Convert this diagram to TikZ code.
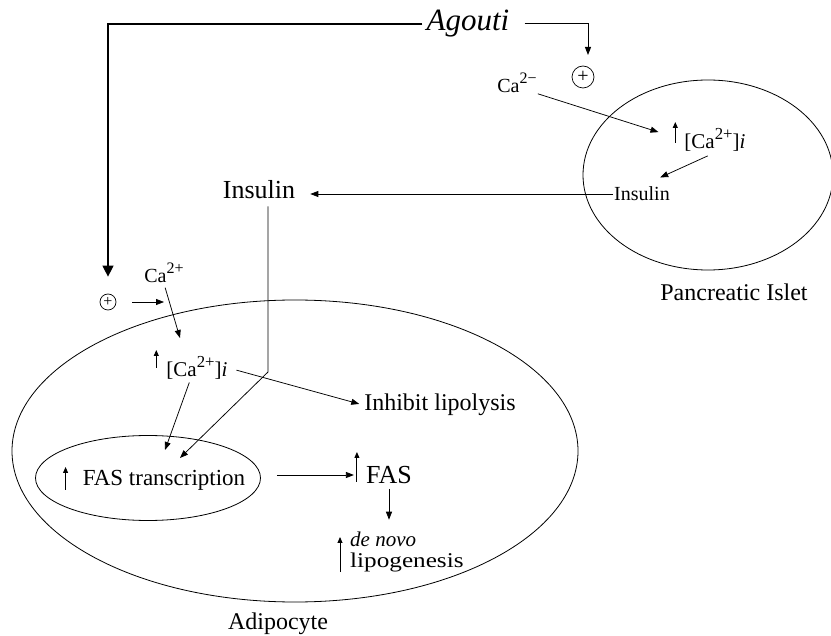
\documentclass[tikz,border=0pt]{standalone}
\usepackage{fontspec}
\usepackage{graphicx}
\setmainfont{Liberation Serif}
\usetikzlibrary{shapes.geometric, arrows.meta, positioning, calc}

\newcommand{\ionsup}[1]{\raisebox{0.42em}{\scalebox{0.8}{#1}}}

\begin{document}
\begin{tikzpicture}[
    x=1pt, y=-1pt,
    lbl/.style={inner sep=1pt, font=\fontsize{#1}{#1}\selectfont},
    cell/.style={draw, ellipse, line width=0.8pt, inner sep=0pt},
    plus/.style={draw, circle, inner sep=0pt, line width=0.7pt},
    arrow/.style={-{Triangle[length=8pt, width=6pt]}, line width=0.75pt},
    bigarrow/.style={-{Triangle[length=11pt, width=11pt]}, line width=1.2pt},
    uparr/.style={-{Triangle[length=6pt, width=5pt]}, line width=0.9pt}
]
    \useasboundingbox (0,0) rectangle (831,636);

    % Cells
    \node[cell, minimum width=566pt, minimum height=302pt] (adipo) at (295,451) {};
    \node[cell, minimum width=250pt, minimum height=190pt] (islet) at (708,175) {};
    \node[cell, minimum width=225pt, minimum height=85pt] (fastr) at (148,478) {};

    % Top
    \node[lbl=31] (agouti) at (468,24) {\itshape Agouti};
    \node[plus, minimum size=22pt, font=\fontsize{20}{20}\selectfont] (plusR) at (583,77) {+};
    \node[plus, minimum size=16pt, font=\fontsize{16}{16}\selectfont] (plusL) at (108,302) {+};
    \coordinate (agtip) at (588,55);

    % Pancreatic islet
    \node[lbl=20] (ca2m) at (517,83) {Ca\ionsup{2−}};
    \node[lbl=21] (caiI) at (715,140) {[Ca\ionsup{2+}]\textit{i}};
    \node[lbl=20] (insI) at (642,194) {Insulin};
    \node[lbl=24] (islabel) at (734,292) {Pancreatic Islet};
    \node[lbl=26] (insB) at (259,190) {Insulin};

    % Adipocyte
    \node[lbl=20] (ca2p) at (164,273) {Ca\ionsup{2+}};
    \node[lbl=21] (caiL) at (197,368) {[Ca\ionsup{2+}]\textit{i}};
    \node[lbl=24] (inhib) at (440,405) {Inhibit lipolysis};
    \node[lbl=23] (fastext) at (164,480) {FAS transcription};
    \node[lbl=26] (fas) at (389,475) {FAS};
    \node[lbl=21, anchor=west, align=left] (novo) at (349,552) {\textit{de novo}\\\scalebox{1.2}[1]{lipogenesis}};
    \node[lbl=24] (adlabel) at (278,624) {Adipocyte};

    \coordinate (bend) at (268,372);
    \coordinate (insTip) at (180,458);
    \coordinate (caTip) at (165,450);
    \coordinate (ca2Tip) at (180,338);

    % Agouti connections
    \draw[bigarrow, shorten <=3pt, shorten >=17pt] (agouti.west) -| (plusL.north);
    \draw[arrow, line width=1pt, shorten <=14pt] (agouti.east) -| (agtip);

    % Islet connections
    \draw[arrow, shorten >=26pt] (ca2m.south east) -- (caiI.west);
    \draw[arrow, shorten <=8pt, shorten >=20pt] (caiI.south) -- (insI.north);
    \draw[arrow, shorten >=14pt] (insI.west) -- (insI.west -| insB.east);

    % Insulin into adipocyte
    \draw[arrow, shorten <=6pt] (insB.south -| bend) -- (bend) -- (insTip);

    % Adipocyte connections
    \draw[arrow, shorten <=16pt] (plusL) -- (plusL -| ca2p);
    \draw[arrow, shorten <=4pt] (ca2p.south) -- (ca2Tip);
    \draw[arrow, shorten <=8pt, shorten >=4pt] (caiL.east) -- (inhib.west);
    \draw[arrow, shorten <=2pt] ($(caiL.south)+(-7,0)$) -- (caTip);
    \draw[arrow, shorten <=16pt, shorten >=11pt] (fas.west -| fastr.east) -- (fas.west);
    \draw[arrow, shorten <=4pt, shorten >=11pt] (fas.south) -- (fas.south |- novo.north);

    % Rising levels
    \draw[uparr] ($(caiI.west)+(-8,3)$) -- ++(0,-21);
    \draw[uparr] ($(caiL.west)+(-9,0)$) -- ++(0,-18);
    \draw[uparr] ($(fastext.west)+(-16,10)$) -- ++(0,-23);
    \draw[uparr] ($(fas.west)+(-8,7)$) -- ++(0,-30);
    \draw[uparr] ($(novo.west)+(-9,20)$) -- ++(0,-35);

\end{tikzpicture}
\end{document}
